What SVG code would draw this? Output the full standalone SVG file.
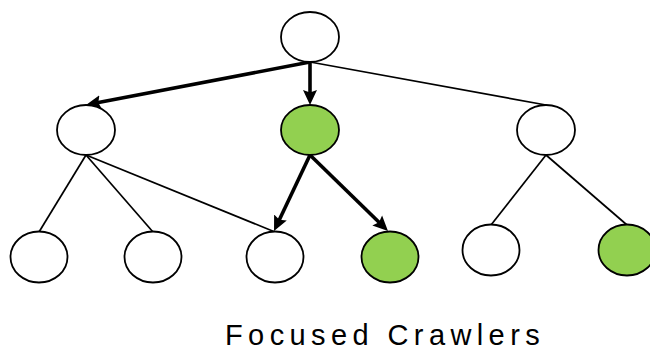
<svg xmlns="http://www.w3.org/2000/svg" width="650" height="351" viewBox="0 0 650 351">
  <style>
    .node { fill: #ffffff; stroke: #000000; stroke-width: 1.8; }
    .hit { fill: #92d050; }
    .thin { stroke: #000000; stroke-width: 1.7; fill: none; }
    .bold { stroke: #000000; stroke-width: 3.6; fill: none; marker-end: url(#head); }
    .caption { font-family: "Liberation Sans", Arial, sans-serif; font-size: 29px; letter-spacing: 5.4px; fill: #000000; }
  </style>
  <defs>
    <marker id="head" markerUnits="userSpaceOnUse" viewBox="0 -8 16 16" refX="5" refY="0" markerWidth="16" markerHeight="16" orient="auto">
      <path d="M0,-7 L15,0 L0,7 L2.5,0 Z" fill="#000000"/>
    </marker>
  </defs>
  <rect width="650" height="351" fill="#ffffff"/>

  <g id="connectors">
    <line class="bold" x1="310" y1="62" x2="95.8" y2="103.1"/>
    <line class="bold" x1="310" y1="62" x2="310" y2="95"/>
    <line class="thin" x1="310" y1="62" x2="546" y2="105"/>
    <line class="thin" x1="86" y1="155" x2="39" y2="232"/>
    <line class="thin" x1="86" y1="155" x2="153" y2="232"/>
    <line class="thin" x1="86" y1="155" x2="275" y2="232"/>
    <line class="bold" x1="310" y1="155" x2="278.3" y2="222"/>
    <line class="bold" x1="310" y1="155" x2="380.8" y2="224"/>
    <line class="thin" x1="546" y1="155" x2="491" y2="225"/>
    <line class="thin" x1="546" y1="155" x2="627" y2="225"/>
  </g>

  <g id="root"><ellipse class="node" cx="310" cy="37" rx="29" ry="25"/></g>
  <g id="mid-left"><ellipse class="node" cx="86" cy="130" rx="29" ry="25"/></g>
  <g id="mid-center"><ellipse class="node hit" cx="310" cy="130" rx="29" ry="25"/></g>
  <g id="mid-right"><ellipse class="node" cx="546" cy="130" rx="29" ry="25"/></g>
  <g id="leaf-1"><ellipse class="node" cx="39" cy="257" rx="28.5" ry="25.5"/></g>
  <g id="leaf-2"><ellipse class="node" cx="153" cy="257" rx="28.5" ry="25.5"/></g>
  <g id="leaf-3"><ellipse class="node" cx="275" cy="257" rx="28.5" ry="25.5"/></g>
  <g id="leaf-4"><ellipse class="node hit" cx="390" cy="257" rx="28.5" ry="25.5"/></g>
  <g id="leaf-5"><ellipse class="node" cx="491" cy="250" rx="28.5" ry="25.5"/></g>
  <g id="leaf-6"><ellipse class="node hit" cx="627" cy="250" rx="28.5" ry="25.5"/></g>

  <text class="caption" x="225" y="344.5">Focused Crawlers</text>
</svg>
